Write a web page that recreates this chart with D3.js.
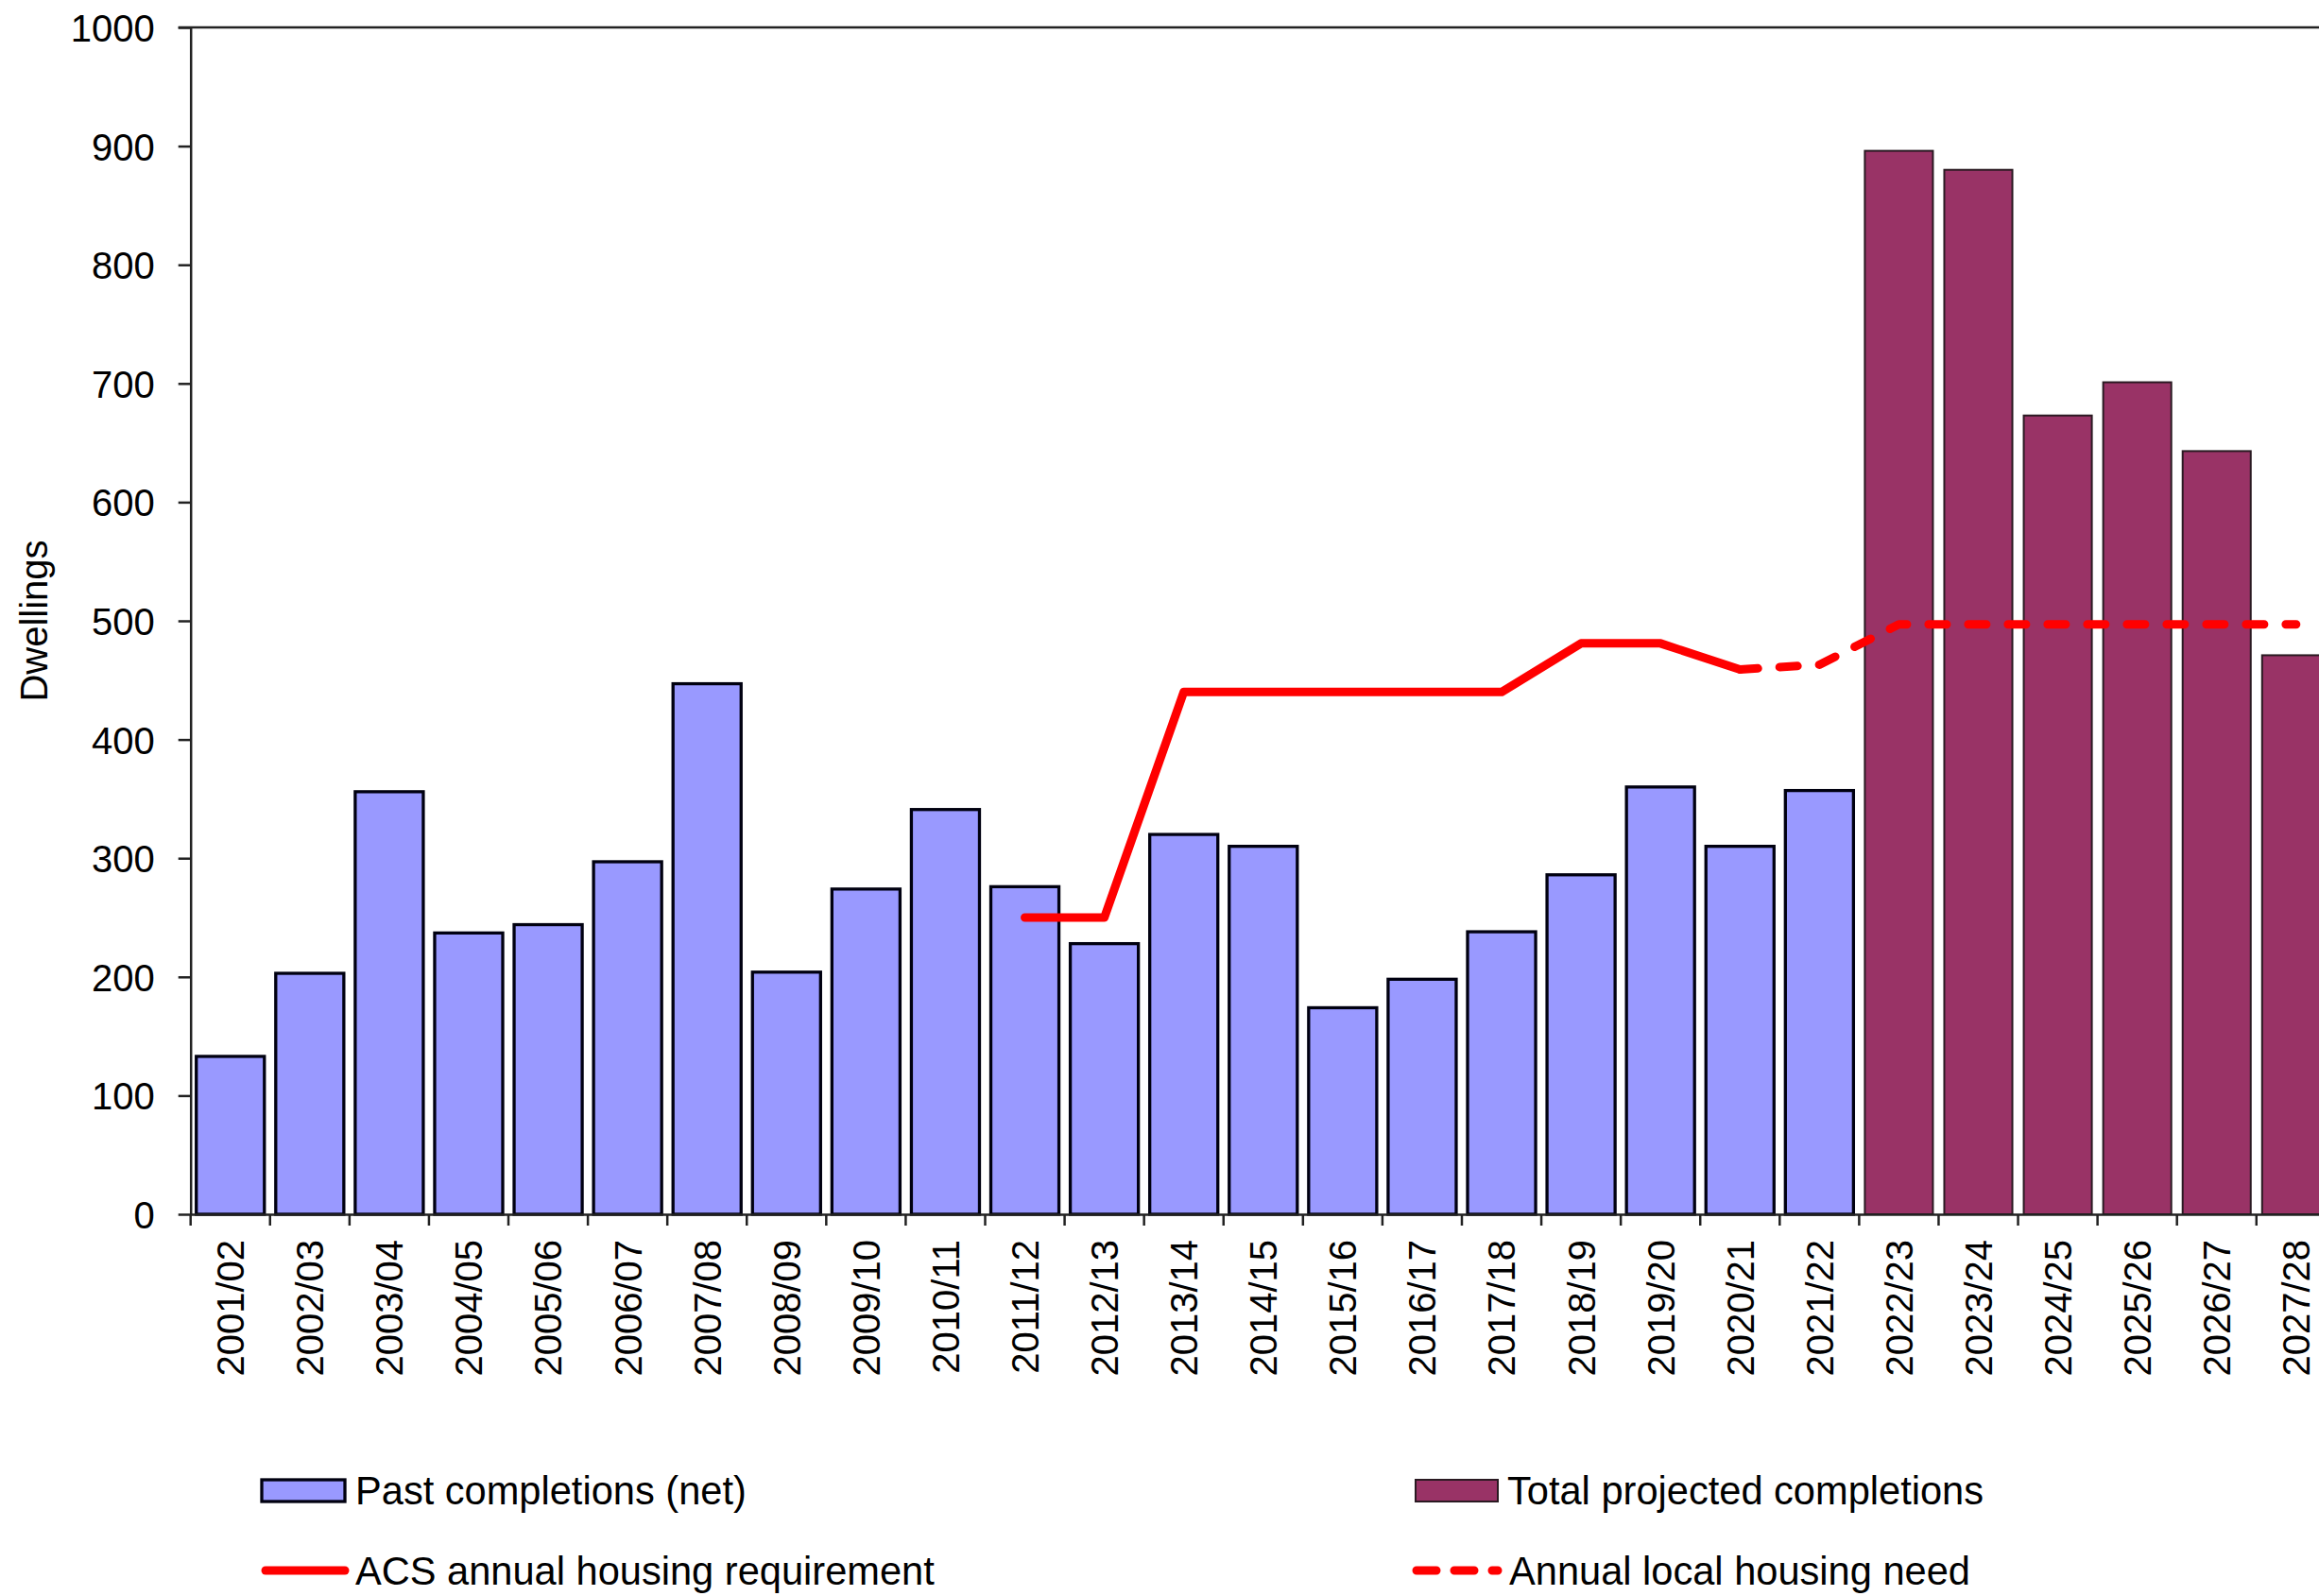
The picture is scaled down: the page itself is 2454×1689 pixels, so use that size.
<!DOCTYPE html>
<html>
<head>
<meta charset="utf-8">
<script src="https://cdn.jsdelivr.net/npm/d3@7"></script>
<style>
  html, body { margin: 0; padding: 0; background: #fff; }
  svg { display: block; }
  text { font-family: "Liberation Sans", Arial, sans-serif; fill: #000; }
</style>
</head>
<body>
<svg id="chart" width="2454" height="1689"></svg>
<script>
const categories = ["2001/02","2002/03","2003/04","2004/05","2005/06","2006/07","2007/08","2008/09","2009/10","2010/11","2011/12","2012/13","2013/14","2014/15","2015/16","2016/17","2017/18","2018/19","2019/20","2020/21","2021/22","2022/23","2023/24","2024/25","2025/26","2026/27","2027/28"];
const pastCompletions = [133,203,356,237,244,297,447,204,274,341,276,228,320,310,174,198,238,286,360,310,357,null,null,null,null,null,null];
const projectedCompletions = [null,null,null,null,null,null,null,null,null,null,null,null,null,null,null,null,null,null,null,null,null,896,880,673,701,643,471];
const acsRequirement = [null,null,null,null,null,null,null,null,null,null,250,250,440,440,440,440,440,481,481,459,null,null,null,null,null,null,null];
const localHousingNeed = [null,null,null,null,null,null,null,null,null,null,null,null,null,null,null,null,null,null,null,459,463,497,497,497,497,497,497];
const yTicks = [0,100,200,300,400,500,600,700,800,900,1000];
const legendLabels = ["Past completions (net)","Total projected completions","ACS annual housing requirement","Annual local housing need"];

(function () {
const svg = d3.select("#chart");
const mLeft = 201.7, mTop = 29, mBottom = 1285, step = 84.08;
const mRight = mLeft + step * categories.length;

const x = d3.scaleBand().domain(categories).range([mLeft, mRight]).paddingInner(0.143).paddingOuter(0.0715);
const y = d3.scaleLinear().domain([0, 1000]).range([mBottom, mTop]);

// bars
svg.append("g").selectAll("rect")
  .data(categories.map((c,i)=>({c, v: pastCompletions[i]})).filter(d=>d.v!=null))
  .join("rect")
  .attr("x", d=>x(d.c)).attr("width", x.bandwidth())
  .attr("y", d=>y(d.v)).attr("height", d=>y(0)-y(d.v))
  .attr("fill", "#9999FF").attr("stroke", "#000010").attr("stroke-width", 3.3);

svg.append("g").selectAll("rect")
  .data(categories.map((c,i)=>({c, v: projectedCompletions[i]})).filter(d=>d.v!=null))
  .join("rect")
  .attr("x", d=>x(d.c)).attr("width", x.bandwidth())
  .attr("y", d=>y(d.v)).attr("height", d=>y(0)-y(d.v))
  .attr("fill", "#993366").attr("stroke", "#2a1a22").attr("stroke-width", 2);

// axes
const gy = svg.append("g").attr("transform", `translate(${mLeft},0)`)
  .call(d3.axisLeft(y).tickValues(yTicks).tickSize(13).tickSizeOuter(0).tickPadding(25).tickFormat(d3.format("d")));
gy.selectAll("text").style("font-size", "40px").attr("dy", "0.36em");
gy.selectAll("line, path").attr("stroke", "#222").attr("stroke-width", 2.5);

const gx = svg.append("g").attr("transform", `translate(0,${mBottom})`)
  .call(d3.axisBottom(x).tickSize(0).tickSizeOuter(0));
gx.select("path").attr("stroke", "#222").attr("stroke-width", 2.5);
gx.selectAll("text")
  .style("font-size", "40px")
  .attr("y", 0).attr("x", -27).attr("dy", "0.36em")
  .attr("transform", "rotate(-90)")
  .style("text-anchor", "end");

// category boundary ticks
svg.append("g").selectAll("line")
  .data(d3.range(categories.length))
  .join("line")
  .attr("x1", i => x(categories[i]) - x.step()*x.paddingInner()/2)
  .attr("x2", i => x(categories[i]) - x.step()*x.paddingInner()/2)
  .attr("y1", mBottom).attr("y2", mBottom + 12)
  .attr("stroke", "#222").attr("stroke-width", 2.5);

// top border
svg.append("line").attr("x1", mLeft - 13).attr("x2", mRight).attr("y1", y(1000)).attr("y2", y(1000))
  .attr("stroke", "#222").attr("stroke-width", 2.5);

// lines
const lineGen = d3.line().defined(d=>d.v!=null).x(d=>x(d.c)+x.bandwidth()/2).y(d=>y(d.v));
svg.append("path")
  .datum(categories.map((c,i)=>({c, v: acsRequirement[i]})))
  .attr("d", lineGen).attr("fill","none").attr("stroke","#FF0000").attr("stroke-width",9)
  .attr("stroke-linejoin","round").attr("stroke-linecap","round");
svg.append("path")
  .datum(categories.map((c,i)=>({c, v: localHousingNeed[i]})))
  .attr("d", lineGen).attr("fill","none").attr("stroke","#FF0000").attr("stroke-width",9)
  .attr("stroke-dasharray","19 23").attr("stroke-linecap","round").attr("stroke-linejoin","round");

// y title
svg.append("text").attr("transform","translate(50,657) rotate(-90)")
  .attr("text-anchor","middle").style("font-size","40px").text("Dwellings");

// legend
const lg = svg.append("g");
lg.append("rect").attr("x",277).attr("y",1566).attr("width",88).attr("height",23)
  .attr("fill","#9999FF").attr("stroke","#000010").attr("stroke-width",3.3);
lg.append("text").attr("x",376).attr("y",1592).style("font-size","41.6px").text(legendLabels[0]);

lg.append("rect").attr("x",1498).attr("y",1566).attr("width",87).attr("height",23)
  .attr("fill","#993366").attr("stroke","#2a1a22").attr("stroke-width",2);
lg.append("text").attr("x",1595).attr("y",1592).style("font-size","41.6px").text(legendLabels[1]);

lg.append("line").attr("x1",281).attr("x2",365).attr("y1",1662).attr("y2",1662)
  .attr("stroke","#FF0000").attr("stroke-width",9).attr("stroke-linecap","round");
lg.append("text").attr("x",376).attr("y",1677).style("font-size","41.6px").text(legendLabels[2]);

lg.append("line").attr("x1",1499).attr("x2",1585).attr("y1",1662).attr("y2",1662)
  .attr("stroke","#FF0000").attr("stroke-width",9).attr("stroke-linecap","round")
  .attr("stroke-dasharray","21 19");
lg.append("text").attr("x",1597).attr("y",1677).style("font-size","41.6px").text(legendLabels[3]);
})();
</script>
</body>
</html>
